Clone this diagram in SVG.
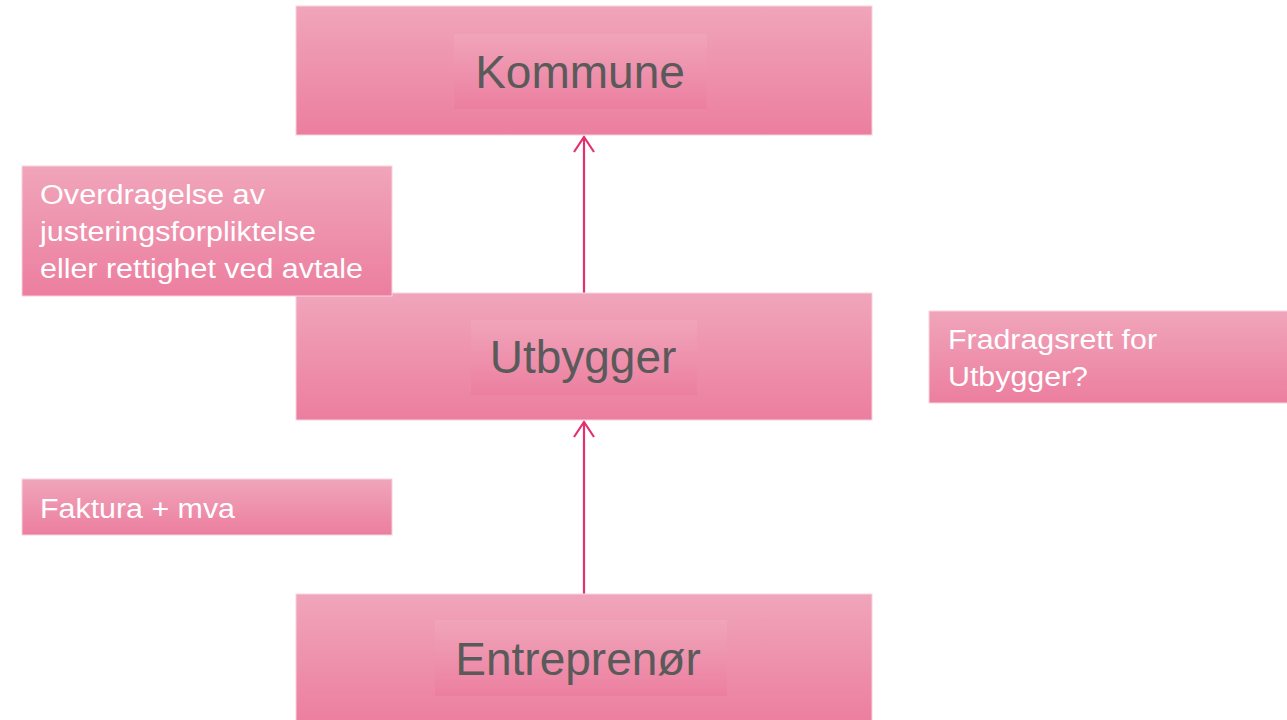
<svg xmlns="http://www.w3.org/2000/svg" width="1287" height="720" viewBox="0 0 1287 720">
  <defs>
    <linearGradient id="pink" x1="0" y1="0" x2="0" y2="1">
      <stop offset="0" stop-color="#f0a5bb"/>
      <stop offset="1" stop-color="#ec7e9f"/>
    </linearGradient>
    <marker id="arr" viewBox="0 0 20 22" refX="18" refY="11" markerWidth="20" markerHeight="22" markerUnits="userSpaceOnUse" orient="auto">
      <path d="M3,1 L18,11 L3,21" fill="none" stroke="#e3306f" stroke-width="2.2"/>
    </marker>
    <style>
      .box { fill: url(#pink); stroke: #f7d3de; stroke-width: 1; }
      .inner { fill: url(#pink); opacity: 0.9; }
      .big { font-family: "Liberation Sans", Arial, sans-serif; font-size: 46px; fill: #5a5a5a; text-anchor: middle; }
      .small { font-family: "Liberation Sans", Arial, sans-serif; font-size: 27px; fill: #ffffff; }
      .conn { stroke: #e3306f; stroke-width: 2.2; fill: none; }
    </style>
  </defs>
  <rect width="1287" height="720" fill="#ffffff"/>
  <g id="connectors">
    <line class="conn" x1="584" y1="293" x2="584" y2="137" marker-end="url(#arr)"/>
    <line class="conn" x1="584" y1="594" x2="584" y2="422" marker-end="url(#arr)"/>
  </g>
  <g id="kommune">
    <rect class="box" x="296" y="6" width="576" height="129"/>
    <rect class="inner" x="454" y="34" width="253" height="75"/>
    <text class="big" x="580" y="88">Kommune</text>
  </g>
  <g id="utbygger">
    <rect class="box" x="296" y="293" width="576" height="127"/>
    <rect class="inner" x="471" y="320" width="226" height="75"/>
    <text class="big" x="583" y="373">Utbygger</text>
  </g>
  <g id="entreprenor">
    <rect class="box" x="296" y="594" width="576" height="130"/>
    <rect class="inner" x="435" y="620" width="292" height="76"/>
    <text class="big" x="578" y="675">Entreprenør</text>
  </g>
  <g id="overdragelse">
    <rect class="box" x="22" y="166" width="370" height="130"/>
    <text class="small" x="40" y="204" textLength="225" lengthAdjust="spacingAndGlyphs">Overdragelse av</text>
    <text class="small" x="40" y="241" textLength="276" lengthAdjust="spacingAndGlyphs">justeringsforpliktelse</text>
    <text class="small" x="40" y="278" textLength="323" lengthAdjust="spacingAndGlyphs">eller rettighet ved avtale</text>
  </g>
  <g id="faktura">
    <rect class="box" x="22" y="479" width="370" height="56"/>
    <text class="small" x="40" y="518" textLength="195" lengthAdjust="spacingAndGlyphs">Faktura + mva</text>
  </g>
  <g id="fradragsrett">
    <rect class="box" x="929" y="311" width="360" height="92"/>
    <text class="small" x="948" y="349" textLength="209" lengthAdjust="spacingAndGlyphs">Fradragsrett for</text>
    <text class="small" x="948" y="386" textLength="140" lengthAdjust="spacingAndGlyphs">Utbygger?</text>
  </g>
</svg>
